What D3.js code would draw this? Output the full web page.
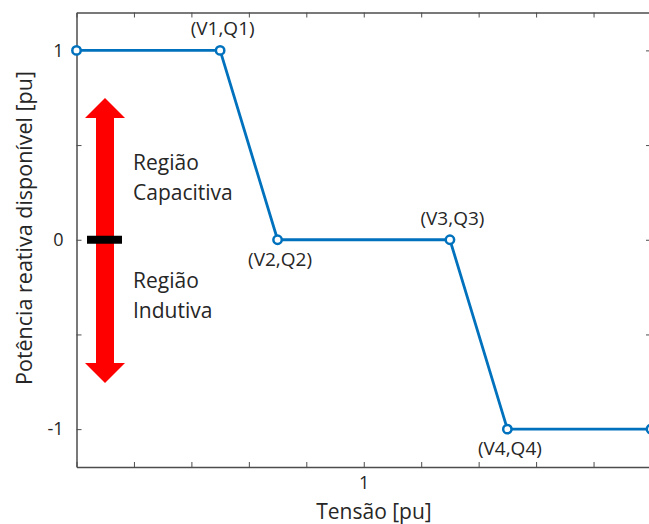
<!DOCTYPE html>
<html>
<head>
<meta charset="utf-8">
<script src="https://cdn.jsdelivr.net/npm/d3@7"></script>
<style>
  body { margin: 0; background: #fff; }
  svg text { font-family: "Open Sans", Lato, sans-serif; fill: #262626; }
</style>
</head>
<body>
<div id="chart"></div>
<script>
// Curve points (voltage in pu, available reactive power in pu)
const tensao = [0.95, 0.975, 0.985, 1.015, 1.025, 1.05]
const potencia = [1, 1, 0, 0, -1, -1]

// Point labels: index into the curve, placed above or below
const pointLabels = [
  { i: 1, text: "(V1,Q1)", pos: "above" },
  { i: 2, text: "(V2,Q2)", pos: "below" },
  { i: 3, text: "(V3,Q3)", pos: "above" },
  { i: 4, text: "(V4,Q4)", pos: "below" },
]

const xTicks = [0.95, 0.96, 0.97, 0.98, 0.99, 1, 1.01, 1.02, 1.03, 1.04, 1.05]
const yTicks = [-1, -0.5, 0, 0.5, 1]
const xTickLabels = { 1: "1" }
const yTickLabels = { "-1": "-1", 0: "0", 1: "1" }

const width = 649
const height = 524
const margin = { top: 12.5, right: -2, bottom: 57, left: 76.5 }

const svg = d3.select("#chart").append("svg").attr("width", width).attr("height", height)

const x = d3.scaleLinear().domain([0.95, 1.05]).range([margin.left, width - margin.right])
const y = d3.scaleLinear().domain([-1.2, 1.2]).range([height - margin.bottom, margin.top])

const axisColor = "#4d4d4d"

// Axes with inward ticks (box style)
function styleAxis(g) {
  g.select(".domain").attr("stroke", axisColor).attr("stroke-width", 1.5)
  g.selectAll(".tick line").attr("stroke", axisColor).attr("stroke-width", 1)
  g.selectAll(".tick text").attr("fill", "#262626").style("font-size", "18px")
}

svg.append("g")
  .attr("transform", `translate(0,${y(-1.2)})`)
  .call(d3.axisBottom(x).tickValues(xTicks).tickSizeInner(-5).tickSizeOuter(0).tickPadding(9)
    .tickFormat((d) => xTickLabels[Math.round(d * 100) / 100] || ""))
  .call(styleAxis)

svg.append("g")
  .attr("transform", `translate(0,${y(1.2)})`)
  .call(d3.axisTop(x).tickValues(xTicks).tickSizeInner(-5).tickSizeOuter(0).tickFormat(""))
  .call(styleAxis)

svg.append("g")
  .attr("transform", `translate(${x(0.95)},0)`)
  .call(d3.axisLeft(y).tickValues(yTicks).tickSizeInner(-5).tickSizeOuter(0).tickPadding(13)
    .tickFormat((d) => yTickLabels[d] || ""))
  .call(styleAxis)

svg.append("g")
  .attr("transform", `translate(${x(1.05)},0)`)
  .call(d3.axisRight(y).tickValues(yTicks).tickSizeInner(-5).tickSizeOuter(0).tickFormat(""))
  .call(styleAxis)

// Axis titles
svg.append("text")
  .attr("x", 374)
  .attr("y", 519)
  .attr("text-anchor", "middle")
  .style("font-size", "21px")
  .text("Tensão [pu]")

svg.append("text")
  .attr("transform", `translate(32,228) rotate(-90)`)
  .attr("text-anchor", "middle")
  .style("font-size", "21.5px")
  .text("Potência reativa disponível [pu]")

// Red double arrow showing the capacitive / inductive regions
const arrowX = 105
const arrowTop = 98
const arrowBottom = 383
const headLen = 20
const headHalf = 20
const shaftHalf = 9
svg.append("path")
  .attr("fill", "#ff0000")
  .attr("d", [
    `M${arrowX},${arrowTop}`,
    `L${arrowX + headHalf},${arrowTop + headLen}`,
    `L${arrowX + shaftHalf},${arrowTop + headLen}`,
    `L${arrowX + shaftHalf},${arrowBottom - headLen}`,
    `L${arrowX + headHalf},${arrowBottom - headLen}`,
    `L${arrowX},${arrowBottom}`,
    `L${arrowX - headHalf},${arrowBottom - headLen}`,
    `L${arrowX - shaftHalf},${arrowBottom - headLen}`,
    `L${arrowX - shaftHalf},${arrowTop + headLen}`,
    `L${arrowX - headHalf},${arrowTop + headLen}`,
    "Z",
  ].join(""))

svg.append("line")
  .attr("x1", 87).attr("x2", 122)
  .attr("y1", y(0)).attr("y2", y(0))
  .attr("stroke", "#000").attr("stroke-width", 8)

const regionText = [
  { lines: ["Região", "Capacitiva"], y0: 170 },
  { lines: ["Região", "Indutiva"], y0: 288 },
]
regionText.forEach((r) => {
  r.lines.forEach((t, k) => {
    svg.append("text")
      .attr("x", 133)
      .attr("y", r.y0 + k * 30)
      .style("font-size", "21px")
      .text(t)
  })
})

// Curve
const pts = tensao.map((v, i) => [v, potencia[i]])
const blue = "#0072bd"

svg.append("path")
  .datum(pts)
  .attr("fill", "none")
  .attr("stroke", blue)
  .attr("stroke-width", 2.8)
  .attr("d", d3.line().x((d) => x(d[0])).y((d) => y(d[1])))

svg.append("g")
  .selectAll("circle")
  .data(pts)
  .join("circle")
  .attr("cx", (d) => x(d[0]))
  .attr("cy", (d) => y(d[1]))
  .attr("r", 4.2)
  .attr("fill", "#fff")
  .attr("stroke", blue)
  .attr("stroke-width", 2.5)

svg.append("g")
  .selectAll("text")
  .data(pointLabels)
  .join("text")
  .attr("x", (d) => x(tensao[d.i]) + 2.5)
  .attr("y", (d) => y(potencia[d.i]) + (d.pos === "above" ? -15 : 26))
  .attr("text-anchor", "middle")
  .style("font-size", "19px")
  .text((d) => d.text)
</script>
</body>
</html>
